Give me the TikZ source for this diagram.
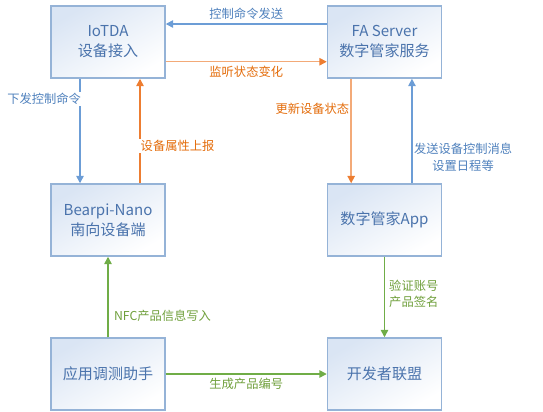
\documentclass[tikz,border=0pt]{standalone}
\usepackage{fontspec}
\setmainfont{Noto Sans CJK SC}
\usepackage{xcolor}
\usetikzlibrary{arrows.meta,positioning,calc}

\definecolor{boxline}{RGB}{149,179,215}
\definecolor{boxfill}{RGB}{218,229,244}
\definecolor{boxtext}{RGB}{74,115,172}
\definecolor{blueL}{RGB}{108,157,214}
\definecolor{blueT}{RGB}{79,129,189}
\definecolor{orangeL}{RGB}{243,170,120}
\definecolor{orangeD}{RGB}{237,125,49}
\definecolor{orangeT}{RGB}{228,108,10}
\definecolor{greenL}{RGB}{112,173,71}
\definecolor{greenT}{RGB}{112,160,60}

\begin{document}
\begin{tikzpicture}[
    x=0.75pt, y=-0.75pt,
    % boxes
    block/.style={draw=boxline, line width=1.1pt, top color=boxfill, bottom color=white,
      shading angle=30, minimum width=85.5pt, minimum height=54pt, align=center,
      text=boxtext, font=\fontsize{11.3}{15}\selectfont, inner sep=2pt},
    % connectors
    flow/.style={line width=1.1pt, -{Triangle[length=5.5pt,width=5.5pt]}},
    orangeflow/.style={line width=1.1pt, orangeL, -{Triangle[length=5.5pt,width=5.5pt,color=orangeD]}},
    lbl/.style={font=\fontsize{9.2}{12.5}\selectfont, inner sep=1pt, fill=white},
  ]
  \useasboundingbox (0,0) rectangle (543,411);

  \node[block] (iotda) at (108,42) {IoTDA\\设备接入};
  \node[block] (faserver) at (384.5,42) {FA Server\\数字管家服务};
  \node[block] (bearpi) at (108,220) {Bearpi-Nano\\南向设备端};
  \node[block] (faapp) at (384.5,220) {数字管家App};
  \node[block] (tool) at (108,374) {应用调测助手};
  \node[block] (devunion) at (384.5,374) {开发者联盟};

  % top row
  \draw[flow, blueL] ([yshift=13.5pt]faserver.west) --
    node[lbl, above, inner sep=2.5pt, text=blueT] {控制命令发送} ([yshift=13.5pt]iotda.east);
  \draw[orangeflow] ([yshift=-14.8pt]iotda.east) --
    node[lbl, below, inner sep=2.5pt, text=orangeT] {监听状态变化} ([yshift=-14.8pt]faserver.west);

  % left column
  \draw[flow, blueL] ([xshift=-21pt]iotda.south) --
    node[lbl, pos=0.19, anchor=east, xshift=2.25pt, text=blueT] {下发控制命令} ([xshift=-21pt]bearpi.north);
  \draw[flow, orangeD] ([xshift=24pt]bearpi.north) --
    node[lbl, pos=0.36, anchor=west, xshift=-1pt, text=orangeT] {设备属性上报} ([xshift=24pt]iotda.south);
  \draw[flow, greenL] (tool.north) --
    node[lbl, pos=0.27, anchor=west, xshift=3pt, text=greenT] {NFC产品信息写入} (bearpi.south);

  % right column
  \draw[orangeflow] ([xshift=-25pt]faserver.south) --
    node[lbl, pos=0.29, anchor=east, text=orangeT] {更新设备状态} ([xshift=-25pt]faapp.north);
  \draw[flow, blueL] ([xshift=20.6pt]faapp.north) --
    node[lbl, pos=0.25, anchor=west, align=center, text=blueT] {发送设备控制消息\\设置日程等} ([xshift=20.6pt]faserver.south);
  \draw[flow, greenL] (faapp.south) --
    node[lbl, pos=0.46, anchor=west, xshift=2pt, align=left, text=greenT] {验证账号\\产品签名} (devunion.north);

  % bottom row
  \draw[flow, greenL] (tool.east) --
    node[lbl, below, inner sep=2.5pt, text=greenT] {生成产品编号} (devunion.west);
\end{tikzpicture}
\end{document}
